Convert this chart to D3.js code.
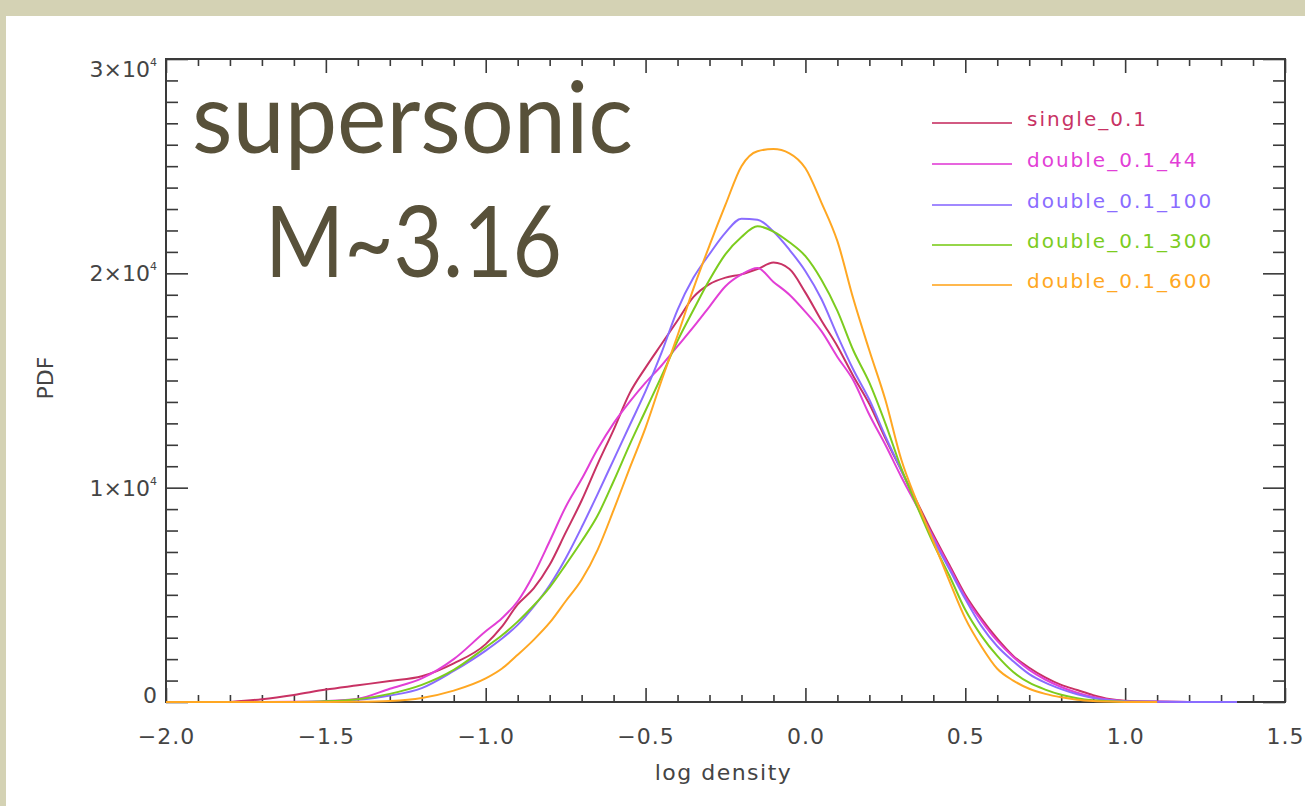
<!DOCTYPE html>
<html>
<head>
<meta charset="utf-8">
<script src="https://cdn.jsdelivr.net/npm/d3@7"></script>
<style>
  html, body { margin: 0; padding: 0; background: #d4d2b4; }
  svg { display: block; }
</style>
</head>
<body>
<svg id="chart" width="1305" height="806"></svg>
<script>
// ---------- data ----------
const logDensity = [-2.0,-1.9,-1.8,-1.7,-1.6,-1.5,-1.4,-1.3,-1.2,-1.1,-1.0,
  -0.95,-0.9,-0.85,-0.8,-0.75,-0.7,-0.65,-0.6,-0.55,-0.5,-0.45,-0.4,-0.35,-0.3,-0.25,-0.2,-0.15,-0.1,-0.05,0.0,
  0.05,0.1,0.15,0.2,0.25,0.3,0.35,0.4,0.45,0.5,0.55,0.6,0.65,0.7,0.75,0.8,0.85,0.9,0.95,1.0,
  1.1,1.2,1.3,1.35];

const single_0_1 = [null,null,0,130,330,580,780,980,1200,1800,2700,
  3500,4550,5300,6400,7900,9400,11100,12700,14400,15600,16700,17800,18900,19500,19800,19950,20200,20500,20200,19100,
  17800,16600,15200,13900,12300,10800,9300,7800,6400,5000,3900,2950,2150,1600,1150,800,560,320,140,60,
  20,5,0,0];

const double_0_1_44 = [null,null,null,0,10,40,150,620,1100,2000,3300,
  3900,4700,5950,7500,9100,10400,11800,13000,14000,14900,15700,16600,17500,18450,19400,19950,20250,19600,19000,18200,
  17300,16100,15000,13400,12000,10500,9100,7700,6300,4900,3800,2850,2100,1500,1050,700,430,230,100,40,
  10,0,null,null];

const double_0_1_100 = [null,null,null,null,0,20,100,300,650,1450,2400,
  2950,3600,4450,5450,6700,8150,9700,11300,12900,14500,16300,18300,19800,20900,21900,22550,22500,21950,21100,20100,
  18800,17100,15500,14100,12400,10800,9200,7600,6200,4800,3550,2600,1900,1300,900,600,360,190,90,40,
  15,5,0,0];

const double_0_1_300 = [null,null,null,null,0,30,130,380,800,1500,2550,
  3100,3750,4500,5350,6400,7500,8700,10300,12000,13600,15200,16850,18300,19700,20900,21700,22200,21950,21450,20800,
  19700,18250,16400,14900,13000,10900,9100,7400,5900,4300,3100,2150,1400,900,580,340,180,80,30,10,
  0,null,null,null];

const double_0_1_600 = [0,0,0,0,0,0,10,50,190,530,1100,
  1550,2200,2900,3700,4700,5700,7100,8950,10900,12800,15000,17100,19300,21300,23200,25000,25700,25800,25600,24900,
  23300,21500,18800,16400,14100,11300,9300,7500,5650,3900,2600,1550,1000,620,380,220,110,50,20,5,
  0,null,null,null];

const seriesNames = ["single_0.1","double_0.1_44","double_0.1_100","double_0.1_300","double_0.1_600"];
const seriesValues = [single_0_1, double_0_1_44, double_0_1_100, double_0_1_300, double_0_1_600];
const seriesColors = ["#c83264","#e23fd6","#8a6cff","#7ccc1e","#ffa722"];

const xTicks = [-2.0,-1.5,-1.0,-0.5,0.0,0.5,1.0,1.5];
const xTickLabels = ["\u22122.0","\u22121.5","\u22121.0","\u22120.5","0.0","0.5","1.0","1.5"];
const yTicks = [0,10000,20000,30000];
const yTickMantissa = ["0","1\u00d710","2\u00d710","3\u00d710"];
const yTickExponent = ["","4","4","4"];

const titleLines = ["supersonic","M~3.16"];
const xTitle = "log density";
const yTitle = "PDF";

// ---------- layout ----------
const svg = d3.select("#chart");
const L = 166, R = 1285, T = 59, B = 702;

svg.append("rect").attr("x",0).attr("y",0).attr("width",1305).attr("height",806).attr("fill","#d4d2b4");
svg.append("rect").attr("x",6).attr("y",16).attr("width",1299).attr("height",790).attr("fill","#ffffff");

const x = d3.scaleLinear().domain([-2.0,1.5]).range([L,R]);
const y = d3.scaleLinear().domain([0,30000]).range([B,T]);

const xMinor = d3.range(-20,16).map(i=>i/10).filter(v=>!xTicks.some(t=>Math.abs(t-v)<1e-9));
const yMinor = d3.range(0,31).map(i=>i*1000).filter(v=>v%10000!==0);

const axisColor = "#3a3a3a";
function styleAxis(g){
  g.select(".domain").remove();
  g.selectAll(".tick line").attr("stroke",axisColor).attr("stroke-width",1.6);
}

// bottom
svg.append("g").attr("transform",`translate(0,${B})`)
  .call(d3.axisBottom(x).tickValues(xMinor).tickSizeInner(-7).tickSizeOuter(0).tickFormat(""))
  .call(styleAxis);
const xb = svg.append("g").attr("transform",`translate(0,${B})`)
  .call(d3.axisBottom(x).tickValues(xTicks).tickSizeInner(-14).tickSizeOuter(0).tickPadding(0)
    .tickFormat((d,i)=>xTickLabels[i]))
  .call(styleAxis);
xb.selectAll(".tick text").attr("y",42).attr("dy",null)
  .attr("font-family","DejaVu Sans").attr("font-size",22).attr("letter-spacing","1px")
  .attr("fill","#444");

// top
svg.append("g").attr("transform",`translate(0,${T})`)
  .call(d3.axisTop(x).tickValues(xMinor).tickSizeInner(-7).tickSizeOuter(0).tickFormat(""))
  .call(styleAxis);
svg.append("g").attr("transform",`translate(0,${T})`)
  .call(d3.axisTop(x).tickValues(xTicks).tickSizeInner(-14).tickSizeOuter(0).tickFormat(""))
  .call(styleAxis);

// left
svg.append("g").attr("transform",`translate(${L},0)`)
  .call(d3.axisLeft(y).tickValues(yMinor).tickSizeInner(-12).tickSizeOuter(0).tickFormat(""))
  .call(styleAxis);
const yl = svg.append("g").attr("transform",`translate(${L},0)`)
  .call(d3.axisLeft(y).tickValues(yTicks).tickSizeInner(-22).tickSizeOuter(0).tickFormat(""))
  .call(styleAxis);

// right
svg.append("g").attr("transform",`translate(${R},0)`)
  .call(d3.axisRight(y).tickValues(yMinor).tickSizeInner(-12).tickSizeOuter(0).tickFormat(""))
  .call(styleAxis);
svg.append("g").attr("transform",`translate(${R},0)`)
  .call(d3.axisRight(y).tickValues(yTicks).tickSizeInner(-22).tickSizeOuter(0).tickFormat(""))
  .call(styleAxis);

// y tick labels with superscripts
const yLabelOffset = [1, 8, 8, 18];
yTicks.forEach((v,i)=>{
  const t = svg.append("text")
    .attr("x",157).attr("y",y(v)+yLabelOffset[i])
    .attr("text-anchor","end")
    .attr("font-family","DejaVu Sans").attr("font-size",22).attr("fill","#444");
  t.append("tspan").text(yTickMantissa[i]);
  if (yTickExponent[i]) {
    t.append("tspan").attr("dy",-11).attr("font-size",11).text(yTickExponent[i]);
  }
});

// frame
svg.append("rect").attr("x",L).attr("y",T).attr("width",R-L).attr("height",B-T)
  .attr("fill","none").attr("stroke",axisColor).attr("stroke-width",2);

// axis titles
svg.append("text").attr("x",(L+R)/2 - 2).attr("y",780)
  .attr("text-anchor","middle").attr("font-family","DejaVu Sans").attr("font-size",22)
  .attr("letter-spacing","1.5px").attr("fill","#444").text(xTitle);
svg.append("text").attr("transform","translate(53,378) rotate(-90)")
  .attr("text-anchor","middle").attr("font-family","DejaVu Sans").attr("font-size",22)
  .attr("fill","#444").text(yTitle);

// curves
const line = d3.line()
  .defined(d=>d[1]!==null)
  .x(d=>x(d[0])).y(d=>y(d[1]))
  .curve(d3.curveMonotoneX);

const plot = svg.append("g");
seriesValues.forEach((vals,si)=>{
  const pts = logDensity.map((xv,i)=>[xv, vals[i]]);
  plot.append("path").datum(pts)
    .attr("d",line)
    .attr("fill","none")
    .attr("stroke",seriesColors[si])
    .attr("stroke-width",2)
    .attr("stroke-linejoin","round");
});

// legend
const legendY = [123,164,205,245,285];
seriesNames.forEach((name,i)=>{
  svg.append("line").attr("x1",932).attr("x2",1012).attr("y1",legendY[i]).attr("y2",legendY[i])
    .attr("stroke",seriesColors[i]).attr("stroke-width",2.2).attr("opacity",0.8);
  svg.append("text").attr("x",1027).attr("y",legendY[i]+3)
    .attr("font-family","DejaVu Sans").attr("font-size",20).attr("letter-spacing","2px")
    .attr("fill",seriesColors[i]).text(name);
});

// big annotation text
svg.append("text").attr("x",192).attr("y",153)
  .attr("font-family","Lato").attr("font-size",98).attr("fill","#58513a")
  .attr("textLength",441).attr("lengthAdjust","spacingAndGlyphs").text(titleLines[0]);
svg.append("text").attr("x",265).attr("y",277)
  .attr("font-family","Lato").attr("font-size",98).attr("fill","#58513a")
  .attr("textLength",297).attr("lengthAdjust","spacingAndGlyphs").text(titleLines[1]);
</script>
</body>
</html>
